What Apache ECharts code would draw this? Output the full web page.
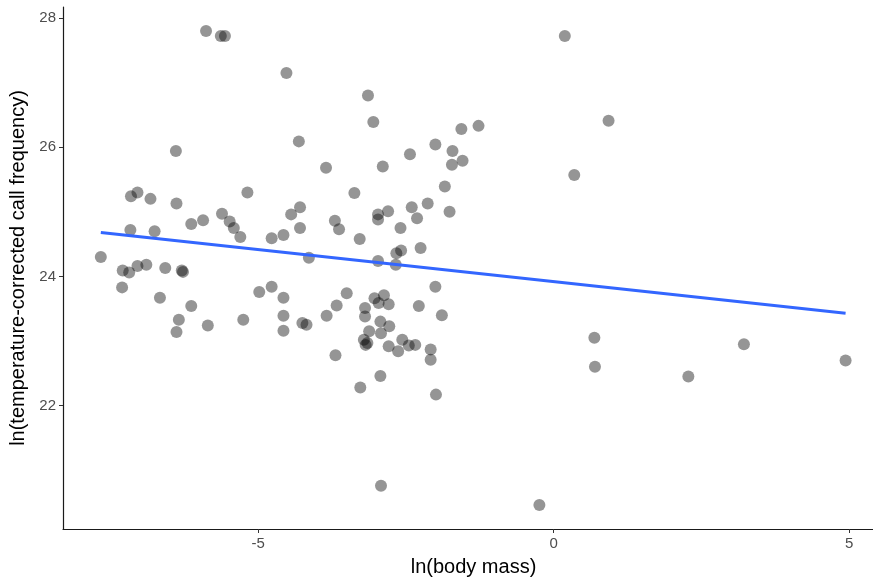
<!DOCTYPE html>
<html>
<head>
<meta charset="utf-8">
<script src="https://cdn.jsdelivr.net/npm/echarts@6/dist/echarts.min.js"></script>
<style>
  html, body { margin: 0; padding: 0; background: #fff; }
  #chart { width: 873px; height: 583px; }
</style>
</head>
<body>
<div id="chart"></div>
<script>
// ln(body mass) per species
const bodyMass = [
  -5.88, -5.63, -5.56, -4.52, -6.39, -4.31, -3.85, -7.15, -7.04, -6.82,
  -6.38, -5.18, -7.16, -6.75, -6.13, -5.93, -5.61, -5.48, -5.41, -5.30,
  -4.77, -4.57, -4.44, -4.29, -4.29, -3.70, -3.63, -7.66, -7.29, -7.18,
  -7.04, -6.89, -6.57, -6.29, -6.27, -4.14, -7.30, -6.66, -6.13, -4.98,
  -4.77, -4.57, -3.67, -6.34, -6.38, -5.85, -5.25, -4.57, -4.57, -4.25,
  -4.18, -3.84, -3.69, 0.19, -3.14, -3.05, -1.56, -1.27, 0.93, -2.00,
  -1.71, -2.43, -2.89, -1.72, -1.54, 0.35, -3.37, -1.84, -2.13, -2.40,
  -1.76, -2.80, -2.97, -2.97, -2.31, -2.59, -3.28, -2.25, -2.66, -2.58,
  -2.97, -2.67, -2.00, -3.50, -3.03, -2.87, -2.96, -2.79, -3.19, -3.19,
  -2.28, -1.89, -2.93, -2.78, -3.12, -2.92, -3.21, -3.15, -3.18, -2.79,
  -2.56, -2.45, -2.34, -2.63, -2.08, -2.08, 0.69, -2.93, -3.27, -1.99,
  -2.92, -0.24, 0.70, 3.22, 2.28, 4.94
]

// ln(temperature-corrected call frequency), same order
const callFreq = [
  27.80, 27.72, 27.72, 27.15, 25.94, 26.09, 25.68, 25.24, 25.30, 25.20,
  25.13, 25.30, 24.72, 24.70, 24.81, 24.87, 24.97, 24.85, 24.75, 24.61,
  24.59, 24.64, 24.96, 25.07, 24.75, 24.86, 24.73, 24.30, 24.09, 24.06,
  24.16, 24.18, 24.13, 24.09, 24.07, 24.29, 23.83, 23.67, 23.54, 23.76,
  23.84, 23.67, 23.55, 23.33, 23.14, 23.24, 23.33, 23.39, 23.16, 23.28,
  23.25, 23.39, 22.78, 27.72, 26.80, 26.39, 26.28, 26.33, 26.41, 26.04,
  25.94, 25.89, 25.70, 25.73, 25.79, 25.57, 25.29, 25.39, 25.13, 25.07,
  25.00, 25.01, 24.96, 24.88, 24.90, 24.75, 24.58, 24.44, 24.36, 24.40,
  24.24, 24.18, 23.84, 23.74, 23.66, 23.71, 23.59, 23.57, 23.51, 23.38,
  23.54, 23.40, 23.30, 23.23, 23.15, 23.12, 23.02, 22.97, 22.94, 22.92,
  23.02, 22.93, 22.94, 22.84, 22.87, 22.71, 23.05, 22.46, 22.28, 22.17,
  20.76, 20.46, 22.60, 22.95, 22.45, 22.70
]

// fitted line end points
const fitX = [-7.66, 4.94]
const fitY = [24.68, 23.43]

const xTicks = [-5, 0, 5]
const yTicks = [22, 24, 26, 28]

const FONT = 'Liberation Sans, Arial, sans-serif'

const chart = echarts.init(document.getElementById('chart'))

const axisCommon = {
  splitLine: { show: false },
  axisLine: { show: true, onZero: false, lineStyle: { color: '#1a1a1a', width: 1.2 } },
  nameLocation: 'middle',
  nameTextStyle: { color: '#000', fontSize: 20, fontFamily: FONT }
}

chart.setOption({
  animation: false,
  backgroundColor: '#fff',
  // the plot panel runs a little past the right edge of the picture
  grid: { left: 63, right: -11, top: 7, bottom: 54, outerBoundsMode: 'none', containLabel: false },
  xAxis: {
    ...axisCommon,
    type: 'value',
    min: -8.3,
    max: 5.59,
    name: 'ln(body mass)',
    nameGap: 28,
    axisTick: { show: true, length: 4, customValues: xTicks, lineStyle: { color: '#333' } },
    axisLabel: { customValues: xTicks, margin: 7, color: '#4d4d4d', fontSize: 15, fontFamily: FONT }
  },
  yAxis: {
    ...axisCommon,
    type: 'value',
    min: 20.09,
    max: 28.17,
    name: 'ln(temperature-corrected call frequency)',
    nameGap: 32,
    axisTick: { show: true, length: 4, customValues: yTicks, lineStyle: { color: '#333' } },
    axisLabel: { customValues: yTicks, margin: 7, color: '#4d4d4d', fontSize: 15, fontFamily: FONT }
  },
  series: [
    {
      type: 'scatter',
      symbolSize: 12,
      itemStyle: { color: 'rgba(0,0,0,0.52)' },
      data: bodyMass.map((x, i) => [x, callFreq[i]])
    },
    {
      type: 'line',
      z: 5,
      symbol: 'none',
      lineStyle: { color: '#3366ff', width: 3 },
      data: fitX.map((x, i) => [x, fitY[i]])
    }
  ]
})
</script>
</body>
</html>
